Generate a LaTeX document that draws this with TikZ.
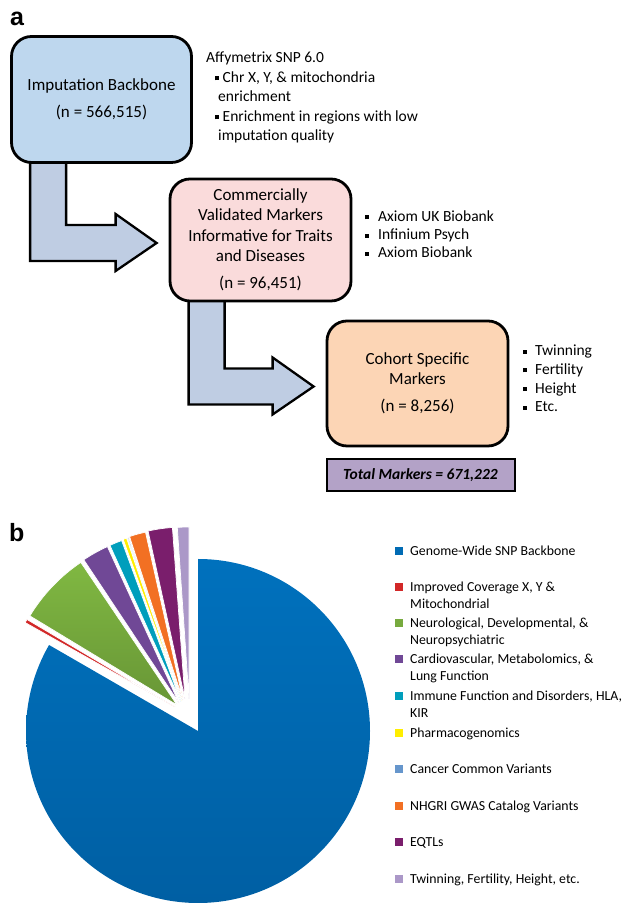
\documentclass[tikz,border=0pt]{standalone}
\usepackage{fontspec}
\setmainfont{Carlito}
\newfontfamily\panelfont{Liberation Sans}
\usepackage{tikz}
\usetikzlibrary{calc,backgrounds}
\definecolor{backbonefill}{RGB}{190,215,238}
\definecolor{commercialfill}{RGB}{250,219,219}
\definecolor{cohortfill}{RGB}{252,213,181}
\definecolor{totalfill}{RGB}{179,162,199}
\definecolor{elbowfill}{RGB}{191,205,227}
\definecolor{snpblue}{RGB}{0,107,180}
\definecolor{snpbluetop}{RGB}{0,113,189}
\definecolor{snpbluebottom}{RGB}{0,95,163}
\definecolor{xyred}{RGB}{210,40,40}
\definecolor{neurogreen}{RGB}{119,170,62}
\definecolor{neurogreentop}{RGB}{128,184,66}
\definecolor{neurogreenbottom}{RGB}{104,150,54}
\definecolor{cardiopurple}{RGB}{112,72,150}
\definecolor{immuneteal}{RGB}{0,158,188}
\definecolor{pharmayellow}{RGB}{255,238,0}
\definecolor{cancerblue}{RGB}{102,150,204}
\definecolor{gwasorange}{RGB}{242,112,35}
\definecolor{eqtlplum}{RGB}{122,30,108}
\definecolor{cohortlilac}{RGB}{171,152,200}

\newcommand{\sqb}{\rule[2.2pt]{4pt}{4pt}}
% bent block arrow from the bottom of one box into the left side of the next
\newcommand{\elbow}[2]{%
  \path[elbowarrow] let \p1=(#1.south west), \p2=(#2.west) in
    (\x1+20,\y1+2) -- (\x1+20,\y2-21) -- (\x2-53,\y2-21) -- (\x2-53,\y2-31)
    -- (\x2-12,\y2-3) -- (\x2-53,\y2+26) -- (\x2-53,\y2+15)
    -- (\x1+56,\y2+15) -- (\x1+56,\y1+2) -- cycle;}

\begin{document}
\begin{tikzpicture}[x=1pt, y=1pt,
  stage/.style={draw, line width=2.8pt, rounded corners=20pt, align=center, inner sep=0pt, font=\fontsize{17}{20.5}\selectfont},
  elbowarrow/.style={draw, fill=elbowfill, line width=2.3pt},
  notes/.style={align=left, anchor=base west, inner sep=0pt, font=\fontsize{15.5}{19.5}\selectfont},
  legend/.style={align=left, anchor=base west, inner sep=0pt, font=\fontsize{13.8}{17}\selectfont},
  key/.style={minimum size=8pt, inner sep=0pt},
  slice/.style={draw=white, line width=0.7pt, line join=round},
  panel/.style={anchor=base west, inner sep=0pt, font=\panelfont\bfseries\fontsize{25}{25}\selectfont}
]
\useasboundingbox (0,0) rectangle (623,904);

% panel a
\node[panel] (pa) at (10,878) {a};
\node[stage, fill=backbonefill, minimum width=180pt, minimum height=126pt] (imp) at (101.5,804.5) {Imputation Backbone\\[6.5pt](n = 566,515)};
\node[stage, fill=commercialfill, minimum width=181pt, minimum height=122pt] (com) at (260.5,664) {Commercially\\Validated Markers\\Informative for Traits\\and Diseases\\[6.5pt](n = 96,451)};
\node[stage, fill=cohortfill, minimum width=181pt, minimum height=125pt] (coh) at (417.5,520.5) {Cohort Specific\\Markers\\[6.5pt](n = 8,256)};
\node[draw, line width=2pt, fill=totalfill, minimum width=188pt, minimum height=32pt, font=\fontsize{15.5}{18}\selectfont\bfseries\itshape] (tot) at (420.5,428.5) {Total Markers = 671,222};

\begin{scope}[on background layer]
\elbow{imp}{com}
\elbow{com}{coh}
\end{scope}

% bullet lists (placed by the baseline of their last line)
\node[notes] (affy) at (206,763) {Affymetrix SNP 6.0\\
  \hspace*{9pt}\sqb\ Chr X, Y, \& mitochondria\\
  \hspace*{12pt}enrichment\\
  \hspace*{9pt}\sqb\ Enrichment in regions with low\\
  \hspace*{12pt}imputation quality};
\node[notes, font=\fontsize{15.5}{18.2}\selectfont] (arrays) at (365,646) {\sqb\hspace{9pt}Axiom UK Biobank\\
  \sqb\hspace{9pt}Infinium Psych\\
  \sqb\hspace{9pt}Axiom Biobank};
\node[notes, font=\fontsize{15.5}{18.7}\selectfont] (traits) at (523,492) {\sqb\hspace{8pt}Twinning\\
  \sqb\hspace{8pt}Fertility\\
  \sqb\hspace{8pt}Height\\
  \sqb\hspace{8pt}Etc.};

% panel b
\node[panel] (pb) at (9,362) {b};
\coordinate (pc) at (198,173);
\shade[top color=snpbluetop, bottom color=snpbluebottom] (pc) -- ++(90:172) arc[start angle=90, end angle=-210, radius=172] -- cycle;
\filldraw[slice, fill=xyred] ($(pc)+(-23,24)$) -- ++(149.4:172) arc[start angle=149.4, end angle=150.6, radius=172] -- cycle;
\shadedraw[slice, top color=neurogreentop, bottom color=neurogreenbottom] ($(pc)+(-21,26)$) -- ++(124:172) arc[start angle=124, end angle=148.8, radius=172] -- cycle;
\filldraw[slice, fill=cardiopurple] ($(pc)+(-19,28)$) -- ++(114.6:172) arc[start angle=114.6, end angle=123.6, radius=172] -- cycle;
\filldraw[slice, fill=immuneteal] ($(pc)+(-17,29)$) -- ++(110.2:172) arc[start angle=110.2, end angle=114.4, radius=172] -- cycle;
\filldraw[slice, fill=pharmayellow] ($(pc)+(-16,30)$) -- ++(108.8:172) arc[start angle=108.8, end angle=110, radius=172] -- cycle;
\filldraw[slice, fill=cancerblue] ($(pc)+(-15.5,30.5)$) -- ++(108.3:172) arc[start angle=108.3, end angle=108.7, radius=172] -- cycle;
\filldraw[slice, fill=gwasorange] ($(pc)+(-15,31)$) -- ++(102.6:172) arc[start angle=102.6, end angle=108.1, radius=172] -- cycle;
\filldraw[slice, fill=eqtlplum] ($(pc)+(-13,32)$) -- ++(94.2:172) arc[start angle=94.2, end angle=102.4, radius=172] -- cycle;
\filldraw[slice, fill=cohortlilac] ($(pc)+(-9,32)$) -- ++(90:172) arc[start angle=90, end angle=93.9, radius=172] -- cycle;

% legend (two-line entries sit on their second line)
\node[key, fill=snpblue] (k1) at (399,353) {};
\node[legend] (t1) at (410,348.5) {Genome-Wide SNP Backbone};
\node[key, fill=xyred] (k2) at (399,317) {};
\node[legend] (t2) at (410,295.5) {Improved Coverage X, Y \&\\Mitochondrial};
\node[key, fill=neurogreen] (k3) at (399,281) {};
\node[legend] (t3) at (410,259.5) {Neurological, Developmental, \&\\Neuropsychiatric};
\node[key, fill=cardiopurple] (k4) at (399,245) {};
\node[legend] (t4) at (410,223.5) {Cardiovascular, Metabolomics, \&\\Lung Function};
\node[key, fill=immuneteal] (k5) at (399,208) {};
\node[legend] (t5) at (410,186.5) {Immune Function and Disorders, HLA,\\KIR};
\node[key, fill=pharmayellow] (k6) at (399,171) {};
\node[legend] (t6) at (410,166.5) {Pharmacogenomics};
\node[key, fill=cancerblue] (k7) at (399,135) {};
\node[legend] (t7) at (410,130.5) {Cancer Common Variants};
\node[key, fill=gwasorange] (k8) at (399,98) {};
\node[legend] (t8) at (410,93.5) {NHGRI GWAS Catalog Variants};
\node[key, fill=eqtlplum] (k9) at (399,62) {};
\node[legend] (t9) at (410,57.5) {EQTLs};
\node[key, fill=cohortlilac] (k10) at (399,25) {};
\node[legend] (t10) at (410,20.5) {Twinning, Fertility, Height, etc.};
\end{tikzpicture}
\end{document}
